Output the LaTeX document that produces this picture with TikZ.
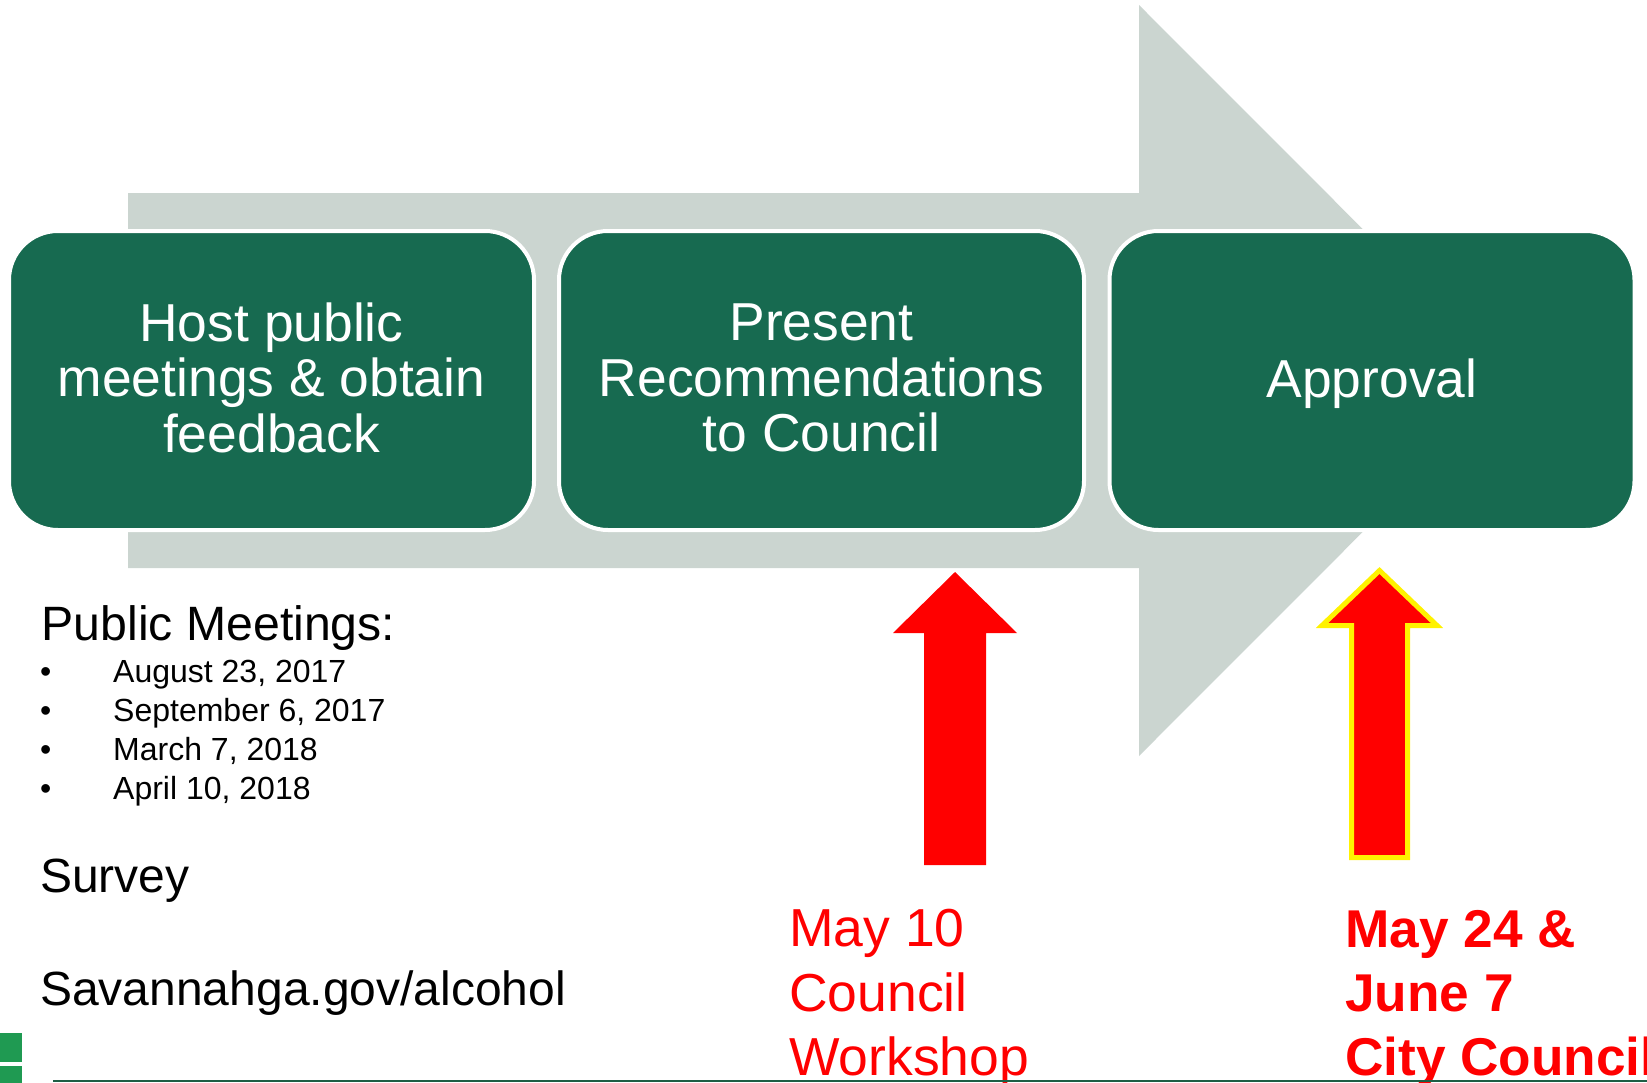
\documentclass[tikz,border=0pt]{standalone}
\usepackage{fontspec}
\setmainfont{Liberation Sans}
\definecolor{stagegreen}{HTML}{176A50}
\definecolor{flowgray}{HTML}{CBD5D0}
\definecolor{brandgreen}{HTML}{1F9A52}
\definecolor{rulegreen}{HTML}{1E5E45}
\begin{document}
\begin{tikzpicture}[x=1pt,y=-1pt,
  stage/.style={draw=white, line width=4pt, fill=stagegreen, rounded corners=49pt,
    minimum width=525pt, minimum height=299pt, inner sep=0pt},
  stagetext/.style={text=white, align=center, inner sep=0pt,
    font=\fontsize{53.4}{55.5}\selectfont},
  label/.style={anchor=base west, inner sep=0pt},
  headline/.style={label, font=\fontsize{48.2}{54}\selectfont},
  bodyline/.style={label, font=\fontsize{48}{54}\selectfont},
  dateline/.style={label, font=\fontsize{32}{38}\selectfont},
  redline/.style={label, text=red, font=\fontsize{53.5}{63.5}\selectfont},
  redbold/.style={label, text=red, font=\fontsize{53.2}{63.5}\selectfont\bfseries}]
\useasboundingbox (0,0) rectangle (1647,1082);
\clip (0,0) rectangle (1647,1082);

% broad process arrow behind the stages
\fill[flowgray] (128,193) -- (1139,193) -- (1139,5) -- (1514,380.5)
  -- (1139,756) -- (1139,568) -- (128,568) -- cycle;

% the three stages
\node[stage] (host) at (271.5,380.5) {};
\node[stage] (present) at (821.5,380.5) {};
\node[stage] (approval) at (1372,380.5) {};
\node[stagetext] (hostT) at ([yshift=2.6pt]host.center) {Host public\\meetings \& obtain\\feedback};
\node[stagetext] (presentT) at ([yshift=2.6pt]present.center) {Present\\Recommendations\\to Council};
\node[stagetext] (approvalT) at ([yshift=-3pt]approval.center) {Approval};

% markers under the last two stages
\fill[red] (955,572) -- (1017,633) -- (986,633) -- (986,865) -- (924,865)
  -- (924,633) -- (893,633) -- cycle;
\filldraw[fill=red, draw=yellow, line width=5pt] (1379.5,570.5) -- (1437,625.5)
  -- (1407.5,625.5) -- (1407.5,857.5) -- (1351.5,857.5) -- (1351.5,625.5)
  -- (1322,625.5) -- cycle;

% meeting list
\node[headline] (pm) at (41.5,640) {Public Meetings:};
\node[dateline] (b1) at (40,682.7) {\textbullet};
\node[dateline] (d1) at (113,682.7) {August 23, 2017};
\node[dateline] (b2) at (40,721.6) {\textbullet};
\node[dateline] (d2) at (113,721.6) {September 6, 2017};
\node[dateline] (b3) at (40,760.5) {\textbullet};
\node[dateline] (d3) at (113,760.5) {March 7, 2018};
\node[dateline] (b4) at (40,799.4) {\textbullet};
\node[dateline] (d4) at (113,799.4) {April 10, 2018};
\node[bodyline] (survey) at (40,892) {Survey};
\node[bodyline] (site) at (40,1005.5) {Savannahga.gov/alcohol};

% dates under the markers
\node[redline] (may10) at (789,946.7) {May 10};
\node[redline] (cw1) at (789,1011.2) {Council};
\node[redline] (cw2) at (789,1075.2) {Workshop};
\node[redbold] (may24) at (1345,947.5) {May 24 \&};
\node[redbold] (june7) at (1345,1011.5) {June 7};
\node[redbold] (cc) at (1345,1075.2) {City Council};

% footer rule and brand squares
\coordinate (ruleL) at (53,1081);
\coordinate (ruleR) at (1647,1081);
\draw[rulegreen, line width=1.5pt] (ruleL) -- (ruleR);
\fill[brandgreen] (0,1033) rectangle (22,1062);
\fill[brandgreen] (0,1066) rectangle (22,1084);
\end{tikzpicture}
\end{document}
